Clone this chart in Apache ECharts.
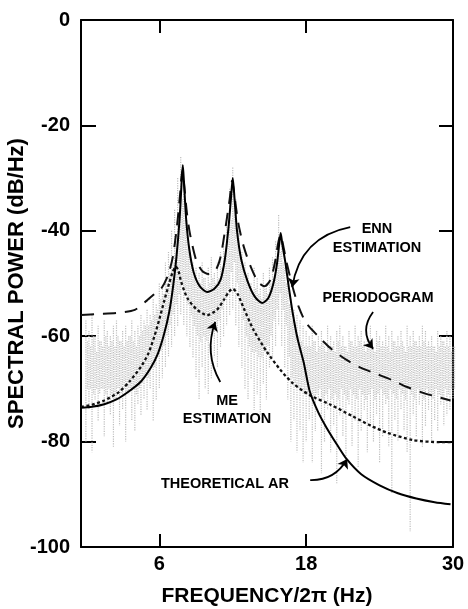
<!DOCTYPE html>
<html><head><meta charset="utf-8">
<script src="https://cdn.jsdelivr.net/npm/echarts@6/dist/echarts.min.js"></script>
<style>html,body{margin:0;padding:0;background:#fff}#c{width:468px;height:609px}</style>
</head><body><div id="c"></div><script>
// ---- data ----
const xMin = -0.4, xMax = 30;
const xTickStart = 6, xTickInterval = 12;   // ticks/labels at 6, 18, 30
const yMin = -100, yMax = 0, yInterval = 20;

const arFreq  = [-0.4,0.5,1.5,2.5,3.5,4.5,5.3,5.9,6.4,6.8,7.1,7.4,7.65,7.82,7.92,8.02,8.2,8.45,8.8,9.3,9.9,10.5,11.0,11.35,11.65,11.85,12.0,12.15,12.35,12.7,13.2,13.8,14.4,14.9,15.3,15.6,15.8,15.92,16.05,16.3,16.6,16.9,17.3,17.8,18.3,19.0,19.7,20.5,21.3,22.5,24.0,25.5,27.0,28.5,29.8];
const arPower = [-73.6,-73.4,-72.9,-72.0,-70.5,-68.6,-66.0,-63.2,-59.5,-55.5,-51,-45,-38,-31,-27.5,-31,-38,-43.5,-47.8,-50.5,-51.6,-51,-49.3,-45.5,-39.5,-34,-30,-34,-40,-45.5,-49.5,-52.5,-53.7,-52.8,-50.2,-46.5,-42.5,-40.4,-42.5,-46,-51,-55.6,-60.5,-65,-70.5,-74.5,-77.5,-80.5,-83.3,-86.2,-88.3,-89.8,-90.8,-91.5,-91.9];

const ennFreq  = [-0.4,1,2.5,4,5,5.6,6.2,6.7,7.1,7.45,7.7,7.88,8.0,8.25,8.5,9.0,9.5,10.0,10.6,11.0,11.4,11.75,11.95,12.15,12.45,12.9,13.5,14.1,14.6,15.1,15.45,15.7,15.9,16.1,16.4,16.9,17.4,18.0,18.9,20.0,21.3,22.5,23.8,25.0,26.2,27.5,28.7,29.8];
const ennPower = [-56,-55.8,-55.6,-55,-53.2,-52,-50.8,-48.5,-45,-39,-33,-28.5,-30.5,-36.5,-40.5,-45.5,-47.6,-48.2,-47.5,-45,-39.5,-34,-30.5,-33.5,-38.5,-43,-47,-49.8,-50.5,-49.2,-46,-42.5,-40.8,-42.5,-46,-50.7,-54.5,-57.5,-59.8,-62.3,-64.5,-66.0,-67.2,-68.3,-69.6,-70.7,-71.5,-72.2];

const meFreq  = [-0.4,0.5,1.5,2.7,3.6,4.5,5.1,5.6,6.0,6.4,6.8,7.1,7.35,7.55,7.8,8.3,9.1,9.9,10.7,11.3,11.7,12.0,12.4,12.9,13.7,14.8,15.9,16.9,18.3,20.0,21.8,23.3,24.6,26.7,28.9,29.8];
const mePower = [-73.4,-73.0,-72.2,-70.6,-68.5,-65.8,-63.3,-60,-56.8,-53.3,-50,-47.8,-46.8,-47.5,-49.8,-52.8,-55.0,-56.0,-55.0,-53,-51.5,-51.0,-52,-54.7,-58.8,-63.0,-66.4,-68.9,-71.2,-73.0,-75.2,-77,-78.3,-79.7,-80.1,-80.1];

// periodogram: one vertical range per 0.25 Hz bin starting at 0 Hz
const periodStart = 0, periodStep = 0.25;
const periodHigh = [
 -57,-59,-56,-60,-58,-61,-57,-59,-60,-58, -57,-61,-59,-58,-60,-57,-59,-58,-56,-57,
 -55,-56,-53,-54,-50,-51,-46,-44,
 -40,-36,-30,-26,-33,-38,-44,-46,
 -47,-48,-46,-49,-47,-45,-48,-46,-44,-42,-37,-32,
 -28,-34,-40,-44,
 -46,-48,-50,-47,-49,-51,-48,-50,-47,-45,
 -42,-37,-42,-47,
 -50,-53,-55,-56,-57,-58,
 -59,-60,-58,-61,-60,-59,-62,-58,-60,-61, -59,-58,-60,-62,-59,-61,-58,-60,-59,-61,
 -60,-58,-62,-59,-60,-61,-58,-60,-59,-61, -60,-59,-62,-58,-60,-59,-61,-60,-58,-59,
 -61,-60,-62,-59,-60,-61,-59,-60,-62];
const periodLow = [
 -80,-74,-82,-72,-76,-70,-79,-73,-75,-81, -72,-77,-74,-80,-71,-76,-78,-73,-75,-72,
 -74,-70,-76,-72,-70,-68,-66,-64,
 -62,-60,-58,-56,-58,-60,-62,-64,
 -68,-72,-66,-70,-71,-68,-64,-66,-62,-60,-58,-56,
 -55,-58,-62,-66,
 -70,-72,-68,-74,-71,-75,-69,-72,-66,-64,
 -62,-58,-62,-66,
 -72,-80,-76,-82,-78,-84,
 -80,-76,-84,-78,-72,-86,-80,-74,-82,-77, -88,-75,-79,-83,-73,-81,-76,-85,-78,-74,
 -82,-77,-80,-75,-84,-79,-73,-81,-90,-76, -80,-74,-78,-82,-97,-75,-79,-73,-81,-77,
 -74,-80,-76,-78,-73,-77,-75,-74,-72];
// denser core of the periodogram (darker stipple band)
const periodCoreHigh = [-61,-62,-60,-63,-61,-62,-60,-62,-61,-62,-60,-61,-62,-61,-60,-61,-62,-60,-59,-58,
 -58,-57,-56,-55,-53,-52,-50,-48, -46,-42,-38,-34,-38,-42,-47,-49,
 -50,-50,-49,-51,-50,-49,-50,-49,-47,-45,-42,-38, -34,-40,-44,-47,
 -49,-50,-52,-51,-52,-53,-51,-52,-50,-49, -47,-44,-46,-50, -54,-57,-59,-60,-61,-62,
 -62,-62,-61,-63,-62,-61,-63,-62,-62,-63, -61,-62,-62,-63,-61,-62,-62,-61,-62,-63,
 -62,-62,-63,-61,-62,-62,-62,-63,-61,-62, -62,-61,-63,-62,-62,-61,-62,-62,-61,-62,
 -62,-62,-63,-62,-61,-62,-62,-63,-62];
const periodCoreLow = [-70,-70,-71,-70,-71,-70,-71,-70,-71,-72,-70,-71,-70,-71,-70,-70,-71,-70,-69,-68,
 -68,-66,-66,-64,-63,-62,-60,-58, -56,-54,-52,-50,-52,-54,-56,-58,
 -60,-61,-60,-61,-60,-59,-58,-57,-55,-53,-51,-48, -46,-50,-54,-57,
 -60,-62,-63,-63,-64,-64,-63,-62,-60,-57, -55,-52,-55,-58, -64,-68,-69,-70,-70,-71,
 -71,-70,-72,-71,-70,-72,-71,-70,-72,-71, -72,-70,-71,-72,-70,-71,-72,-70,-71,-72,
 -71,-70,-72,-71,-70,-71,-72,-70,-71,-72, -70,-71,-72,-70,-71,-72,-70,-71,-72,-70,
 -71,-72,-70,-71,-72,-70,-71,-70,-70];

// annotation arrows (data coordinates: [freq, dB])
const arrows = [
  {from: [21.6, -39.3], to: [16.86, -50.7], curveness: -0.35},
  {from: [23.47, -55.4], to: [23.47, -62.4], curveness: -0.38},
  {from: [10.98, -68.7], to: [10.57, -57.3], curveness: 0.23},
  {from: [18.33, -87.3], to: [21.35, -83.3], curveness: -0.3}
];

// ---- build ----
const zip = (a, b) => a.map((v, i) => [v, b[i]]);
const periodData = periodHigh.map((h, i) => [periodStart + i * periodStep, periodLow[i], h]);
const periodCoreData = periodCoreHigh.map((h, i) => [periodStart + i * periodStep + periodStep / 2, periodCoreLow[i], h]);
const FONT = "'Liberation Sans', Arial, Helvetica, sans-serif";

const G = {left: 81, right: 15, top: 20, bottom: 62};
const plotW = 468 - G.left - G.right;
// second (tick-only) grid starts where x = xTickStart on the main scale
const tickGridLeft = G.left + (xTickStart - xMin) / (xMax - xMin) * plotW;

function rangeRenderer(color, width, dash) {
  return function (params, api) {
    const p1 = api.coord([api.value(0), api.value(2)]);
    const p2 = api.coord([api.value(0), api.value(1)]);
    return {type: 'line', shape: {x1: p1[0], y1: p1[1], x2: p2[0], y2: p2[1]},
      style: {stroke: color, lineWidth: width, lineDash: dash}};
  };
}

const chart = echarts.init(document.getElementById('c'), null, {renderer: 'canvas'});
const axisLineStyle = {color: '#000', width: 2};
const tickStyle = {color: '#000', width: 2};
const labelStyle = {fontFamily: FONT, fontWeight: 'bold', fontSize: 20, color: '#000'};
chart.setOption({
  animation: false,
  backgroundColor: '#fff',
  grid: [
    Object.assign({outerBoundsMode: 'none', containLabel: false}, G),
    {outerBoundsMode: 'none', containLabel: false, left: tickGridLeft, right: G.right, top: G.top, bottom: G.bottom}
  ],
  xAxis: [{
    gridIndex: 0, type: 'value', min: xMin, max: xMax, position: 'bottom',
    name: 'FREQUENCY/2π (Hz)', nameLocation: 'middle', nameGap: 39, nameMoveOverlap: false,
    nameTextStyle: {fontFamily: FONT, fontWeight: 'bold', fontSize: 21, color: '#000'},
    axisLine: {show: true, onZero: false, lineStyle: axisLineStyle},
    axisTick: {show: false}, axisLabel: {show: false}, splitLine: {show: false}
  }, {
    gridIndex: 0, type: 'value', min: xMin, max: xMax, position: 'top',
    axisLine: {show: true, onZero: false, lineStyle: axisLineStyle},
    axisTick: {show: false}, axisLabel: {show: false}, splitLine: {show: false}
  }, {
    gridIndex: 1, type: 'value', min: xTickStart, max: xMax, interval: xTickInterval, position: 'bottom',
    axisLine: {show: false, onZero: false},
    axisTick: {show: true, inside: true, length: 13, lineStyle: tickStyle},
    axisLabel: Object.assign({show: true, margin: 7, showMinLabel: true, showMaxLabel: true}, labelStyle),
    splitLine: {show: false}
  }, {
    gridIndex: 1, type: 'value', min: xTickStart, max: xMax, interval: xTickInterval, position: 'top',
    axisLine: {show: false, onZero: false},
    axisTick: {show: true, inside: true, length: 13, lineStyle: tickStyle},
    axisLabel: {show: false}, splitLine: {show: false}
  }],
  yAxis: [{
    gridIndex: 0, type: 'value', min: yMin, max: yMax, interval: yInterval, position: 'left',
    name: 'SPECTRAL POWER (dB/Hz)', nameLocation: 'middle', nameGap: 53, nameRotate: 90, nameMoveOverlap: false,
    nameTextStyle: {fontFamily: FONT, fontWeight: 'bold', fontSize: 22, color: '#000'},
    axisLine: {show: true, onZero: false, lineStyle: axisLineStyle},
    axisTick: {show: true, inside: true, length: 15, lineStyle: tickStyle},
    axisLabel: Object.assign({margin: 11}, labelStyle),
    splitLine: {show: false}
  }, {
    gridIndex: 0, type: 'value', min: yMin, max: yMax, interval: yInterval, position: 'right',
    axisLine: {show: true, onZero: false, lineStyle: axisLineStyle},
    axisTick: {show: true, inside: true, length: 14, lineStyle: tickStyle},
    axisLabel: {show: false}, splitLine: {show: false}
  }, {
    gridIndex: 1, type: 'value', min: yMin, max: yMax, show: false
  }],
  series: [
    {
      name: 'Periodogram', type: 'custom', xAxisIndex: 0, yAxisIndex: 0, z: 1,
      data: periodData, encode: {x: 0, y: [1, 2]},
      renderItem: rangeRenderer('#bdbdbd', 1.2, [1.2, 1.2]), silent: true
    },
    {
      name: 'Periodogram core', type: 'custom', xAxisIndex: 0, yAxisIndex: 0, z: 1,
      data: periodCoreData, encode: {x: 0, y: [1, 2]},
      renderItem: rangeRenderer('#c6c6c6', 1.3, [1.2, 1.0]), silent: true
    },
    {
      name: 'Theoretical AR', type: 'line', xAxisIndex: 0, yAxisIndex: 0, data: zip(arFreq, arPower), smooth: 0.25,
      symbol: 'none', z: 5, lineStyle: {color: '#000', width: 2}
    },
    {
      name: 'ENN estimation', type: 'line', xAxisIndex: 0, yAxisIndex: 0, data: zip(ennFreq, ennPower), smooth: 0.25,
      symbol: 'none', z: 4, lineStyle: {color: '#111', width: 2, type: [13, 9]}
    },
    {
      name: 'ME estimation', type: 'line', xAxisIndex: 0, yAxisIndex: 0, data: zip(meFreq, mePower), smooth: 0.25,
      symbol: 'none', z: 4, lineStyle: {color: '#111', width: 2.3, type: [3, 2.5]}
    },
    {
      name: 'Arrows', type: 'lines', coordinateSystem: 'cartesian2d', xAxisIndex: 0, yAxisIndex: 0, z: 6,
      symbol: ['none', 'arrow'], symbolSize: 9,
      lineStyle: {color: '#000', width: 1.8, opacity: 1},
      data: arrows.map(a => ({coords: [a.from, a.to], lineStyle: {curveness: a.curveness}})),
      silent: true
    }
  ],
  graphic: [
    {type: 'text', x: 377, y: 238, style: {text: 'ENN\nESTIMATION', font: "bold 14.5px " + FONT, fill: '#000', textAlign: 'center', textVerticalAlign: 'middle', lineHeight: 19}},
    {type: 'text', x: 378, y: 298, style: {text: 'PERIODOGRAM', font: "bold 14.5px " + FONT, fill: '#000', textAlign: 'center', textVerticalAlign: 'middle'}},
    {type: 'text', x: 227, y: 410, style: {text: 'ME\nESTIMATION', font: "bold 14.5px " + FONT, fill: '#000', textAlign: 'center', textVerticalAlign: 'middle', lineHeight: 18}},
    {type: 'text', x: 225, y: 484, style: {text: 'THEORETICAL AR', font: "bold 14.5px " + FONT, fill: '#000', textAlign: 'center', textVerticalAlign: 'middle'}}
  ]
});
</script></body></html>
